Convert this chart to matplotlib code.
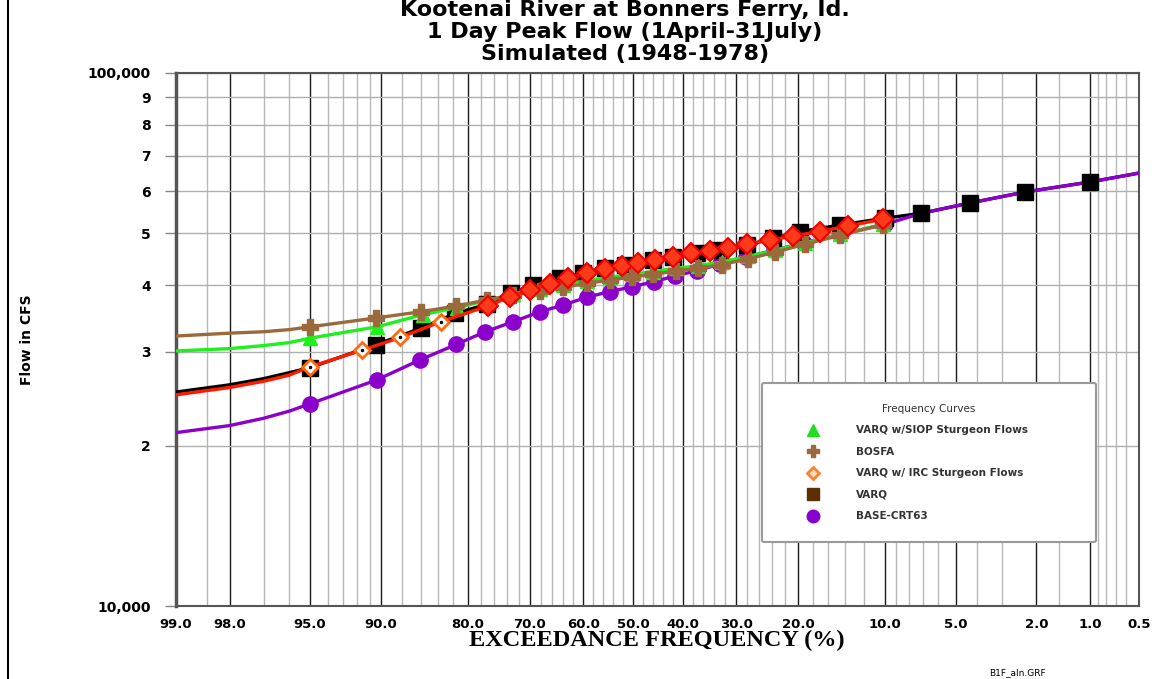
import numpy as np
import matplotlib
matplotlib.use('Agg')
import matplotlib.pyplot as plt
from matplotlib.lines import Line2D
from matplotlib.ticker import NullLocator
from statistics import NormalDist

plt.rcParams['font.family'] = 'DejaVu Sans'

### exceedance (%) and flow (cfs) for each frequency curve
### first 4 points of every curve are line only (no symbol)
varq_pct = [99, 98, 97, 96, 95.0, 90.5, 86.0, 81.7, 77.2, 73.2, 69.5, 64.5, 60.0, 55.6, 51.6,
            45.9, 41.9, 37.2, 32.9, 28.1, 23.8, 19.8, 14.6, 10.0, 7.1, 4.3, 2.3, 1.0, 0.5]
varq_cfs = [25200, 26000, 26700, 27400, 28000, 30900, 33200, 35400, 36800, 38600, 40000, 41200,
            42200, 43000, 43600, 44600, 45200, 45900, 46550, 47550, 48950, 50400, 51850, 53400,
            54550, 57050, 59800, 62450, 64900]

irc_pct = [99, 98, 97, 96, 95.0, 91.6, 88.2, 83.6, 77.0, 73.4, 70.0, 66.4, 63.0, 59.3, 55.7,
           52.3, 49.0, 45.5, 41.9, 38.3, 34.8, 31.4, 28.1, 24.3, 20.8, 17.1, 13.7, 10.2]
irc_cfs = [24900, 25700, 26400, 27100, 28100, 30200, 31900, 34150, 36550, 38050, 39150, 40200,
           41200, 42100, 42800, 43450, 44050, 44600, 45200, 45900, 46400, 47000, 47700, 48600,
           49450, 50400, 51650, 53150]

base_pct = [99, 98, 97, 96, 95.0, 90.4, 86.1, 81.6, 77.4, 72.9, 68.2, 63.9, 59.3, 54.7, 50.2,
            45.8, 41.5, 37.2, 32.9, 28.3, 23.7, 19.2, 14.6, 10.0, 7.1, 4.3, 2.3, 1.0, 0.5]
base_cfs = [21150, 21800, 22500, 23200, 23950, 26550, 28950, 30950, 32700, 34150, 35650, 36700,
            37950, 38900, 39700, 40600, 41600, 42600, 43800, 45100, 46500, 48000, 49800, 52000,
            54550, 57050, 59800, 62450, 64900]

bosfa_pct = [99, 98, 97, 96, 95.0, 90.5, 86.0, 81.6, 77.2, 72.9, 68.2, 63.9, 59.3, 54.7, 50.3,
             46.0, 41.3, 37.0, 32.6, 27.9, 23.5, 19.1, 14.6, 10.2]
bosfa_cfs = [32100, 32500, 32700, 33000, 33400, 34700, 35650, 36550, 37500, 38330, 39000, 39600,
             40300, 40900, 41400, 41900, 42500, 43000, 43700, 44800, 46100, 47700, 49600, 51900]

siop_pct = [99, 98, 97, 96, 95.0, 90.4, 85.8, 81.5, 77.2, 72.9, 68.2, 63.9, 59.3, 54.7, 50.3,
            46.0, 41.3, 37.0, 32.6, 27.9, 23.5, 19.1, 14.6, 10.2]
siop_cfs = [30100, 30400, 30800, 31200, 31800, 33400, 35200, 36300, 37400, 38500, 39400, 40100,
            40800, 41400, 41900, 42400, 43000, 43500, 44200, 45300, 46500, 48000, 49800, 52000]

x_major = [99, 98, 95, 90, 80, 70, 60, 50, 40, 30, 20, 10, 5, 2, 1, 0.5]
x_labels = ['99.0', '98.0', '95.0', '90.0', '80.0', '70.0', '60.0', '50.0', '40.0', '30.0',
            '20.0', '10.0', '5.0', '2.0', '1.0', '0.5']
x_minor = [98.5, 97, 96, 94, 93, 92, 91, 88, 86, 84, 82, 78, 76, 74, 72, 68, 66, 64, 62, 58, 56,
           54, 52, 48, 46, 44, 42, 38, 36, 34, 32, 28, 26, 24, 22, 18, 16, 14, 12, 9, 8, 7, 6, 4,
           3, 1.5, 0.9, 0.8, 0.7, 0.6]
y_ticks = [10000, 20000, 30000, 40000, 50000, 60000, 70000, 80000, 90000, 100000]
y_labels = ['10,000', '2', '3', '4', '5', '6', '7', '8', '9', '100,000']

legend_labels = ['VARQ w/SIOP Sturgeon Flows', 'BOSFA', 'VARQ w/ IRC Sturgeon Flows', 'VARQ',
                 'BASE-CRT63']

### normal probability scale for the exceedance axis
_nd = NormalDist()
_ppf = np.vectorize(_nd.inv_cdf, otypes=[float])
_cdf = np.vectorize(_nd.cdf, otypes=[float])


def prob_fwd(p):
    p = np.clip(np.asarray(p, dtype=float), 1e-4, 100 - 1e-4)
    return _ppf(p / 100.0)


def prob_inv(z):
    return _cdf(np.asarray(z, dtype=float)) * 100.0


W, H = 1165, 679
fig = plt.figure(figsize=(W / 100, H / 100), dpi=100)
ax = fig.add_axes([176 / W, 1 - 606 / H, 963 / W, 533 / H])
ax.set_xscale('function', functions=(prob_fwd, prob_inv))
ax.set_yscale('log')
ax.set_xlim(99, 0.5)
ax.set_ylim(10000, 100000)

lw = 2.4
# VARQ
ax.plot(varq_pct, varq_cfs, color='black', lw=lw, zorder=3)
# BASE-CRT63
ax.plot(base_pct, base_cfs, color='#8c00cc', lw=lw, zorder=4)
ax.plot(base_pct[4:24], base_cfs[4:24], ls='none', marker='o', ms=11, color='#8c00cc', zorder=4)
ax.plot(varq_pct[4:28], varq_cfs[4:28], ls='none', marker='s', ms=11.5, color='black', zorder=5)
# VARQ w/SIOP
ax.plot(siop_pct, siop_cfs, color='#1ef01e', lw=lw, zorder=6)
ax.plot(siop_pct[4:], siop_cfs[4:], ls='none', marker='^', ms=10, color='#1ef01e', zorder=6)
# BOSFA
ax.plot(bosfa_pct, bosfa_cfs, color='#9b6a3c', lw=lw, zorder=7)
ax.plot(bosfa_pct[4:], bosfa_cfs[4:], ls='none', marker='P', ms=11, color='#9b6a3c', zorder=7)
# VARQ w/IRC
ax.plot(irc_pct, irc_cfs, color='#ff1a00', lw=lw, zorder=8)
ax.plot(irc_pct[4:8], irc_cfs[4:8], ls='none', marker='D', ms=8, mfc='white', mec='#ff6a10',
        mew=2, zorder=9)
ax.plot(irc_pct[4:8], irc_cfs[4:8], ls='none', marker='.', ms=3, color='black', zorder=9)
ax.plot(irc_pct[8:], irc_cfs[8:], ls='none', marker='D', ms=10, mfc='#ff3a1a', mec='#f00000',
        mew=1.5, zorder=9)

### axes, ticks and grid
ax.set_xticks(x_major)
ax.set_xticklabels(x_labels, fontsize=9.5, fontweight='bold')
ax.set_xticks(x_minor, minor=True)
ax.tick_params(axis='x', which='both', length=0, pad=9)
ax.set_yticks(y_ticks)
ax.set_yticklabels(y_labels, fontsize=10, fontweight='bold')
ax.yaxis.set_minor_locator(NullLocator())
ax.tick_params(axis='y', which='major', length=8, width=1, color='#888888', pad=10)
ax.grid(which='major', axis='x', color='#1a1a1a', lw=1)
ax.grid(which='minor', axis='x', color='#b8b8b8', lw=1)
ax.grid(which='major', axis='y', color='#b0b0b0', lw=1)
ax.set_axisbelow(True)
for side in ['top', 'right', 'bottom']:
    ax.spines[side].set_color('#555555')
    ax.spines[side].set_linewidth(1.5)
ax.spines['left'].set_color('#555555')
ax.spines['left'].set_linewidth(2.5)

### legend with its own symbol colours
handles = [
    Line2D([], [], ls='none', marker='^', ms=9, color='#22dd22'),
    Line2D([], [], ls='none', marker='P', ms=9, color='#9b6a3c'),
    Line2D([], [], ls='none', marker='D', ms=6, mfc='#ffe0c0', mec='#ff8030', mew=2),
    Line2D([], [], ls='none', marker='s', ms=9, color='#5a3000'),
    Line2D([], [], ls='none', marker='o', ms=9, color='#8800cc'),
]
leg = ax.legend(handles, legend_labels, title='Frequency Curves', loc='upper left',
                bbox_to_anchor=(0.603, 0.1144, 0.3575, 0.3136), mode='expand',
                fontsize=7.5, title_fontsize=7.5, labelspacing=1.1, borderpad=2.0,
                handlelength=5.8, handletextpad=1.2, fancybox=True, framealpha=1,
                edgecolor='#999999')
leg.get_frame().set_linewidth(1.5)
leg.set_zorder(20)
for t in leg.get_texts():
    t.set_color('#333333')
    t.set_fontweight('bold')
leg.get_title().set_color('#333333')

### titles and labels
title = ('Kootenai River at Bonners Ferry, Id.\n'
         '1 Day Peak Flow (1April-31July)\n'
         'Simulated (1948-1978)')
fig.text(625 / W, 1.0, title, ha='center', va='top', ma='center', fontsize=16,
         fontweight='bold', linespacing=1.12)
fig.text(27 / W, 1 - 340 / H, 'Flow in CFS', rotation=90, ha='center', va='center',
         fontsize=10, fontweight='bold')
fig.text(657 / W, 1 - 640 / H, 'EXCEEDANCE FREQUENCY (%)', ha='center', va='center',
         family='Liberation Serif', fontweight='bold', fontsize=17.5)
fig.text(1017 / W, 1 - 673 / H, 'B1F_aln.GRF', ha='center', va='center', fontsize=6.5)
fig.add_artist(Line2D([8 / W, 8 / W], [0, 1], color='black', lw=1.5, transform=fig.transFigure))

fig.savefig('out.png', dpi=100)
